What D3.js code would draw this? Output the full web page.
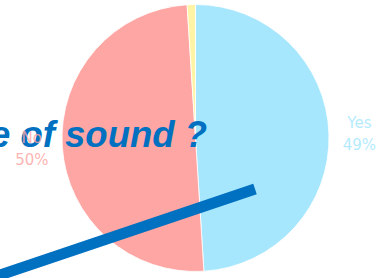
<!DOCTYPE html>
<html>
<head>
<meta charset="utf-8">
<script src="https://cdn.jsdelivr.net/npm/d3@7"></script>
<style>
  html, body { margin: 0; padding: 0; background: #fff; overflow: hidden; }
  svg { display: block; }
</style>
</head>
<body>
<div class="chart"></div>
<script>
const categories = ['Yes', 'No', 'Other'];
const values = [49, 50, 1];
const labels = ['49%', '50%', ''];
const colors = ['#a6e7fe', '#fda6a3', '#fff4a6'];

const width = 382,
  height = 278,
  cx = 195.5,
  cy = 138,
  radius = 133.5,
  labelRadius = 164;

const svg = d3
  .select('.chart')
  .append('svg')
  .attr('width', width)
  .attr('height', height);

const data = categories.map((c, i) => ({ name: c, value: values[i], label: labels[i], color: colors[i] }));

const pie = d3
  .pie()
  .sort(null)
  .value(d => d.value);

const arc = d3.arc().innerRadius(0).outerRadius(radius);
const labelArc = d3.arc().innerRadius(labelRadius).outerRadius(labelRadius);

const g = svg.append('g').attr('transform', `translate(${cx},${cy})`);

g.selectAll('.slice')
  .data(pie(data))
  .enter()
  .append('path')
  .attr('class', 'slice')
  .attr('d', arc)
  .attr('fill', d => d.data.color)
  .attr('stroke', '#fff')
  .attr('stroke-width', 0.8);

// title fragment, cut off at the left
svg
  .append('text')
  .attr('x', -10)
  .attr('y', 147)
  .style('font-family', 'Liberation Sans, Arial, sans-serif')
  .style('font-weight', 'bold')
  .style('font-style', 'italic')
  .style('font-size', '36.5px')
  .attr('fill', '#0070c0')
  .text('e of sound ?');

// two line labels outside the pie (drawn over the title, faintly)
const lab = svg
  .append('g')
  .attr('transform', `translate(${cx},${cy})`)
  .selectAll('.label')
  .data(pie(data).filter(d => d.data.label))
  .enter()
  .append('text')
  .attr('class', 'label')
  .attr('transform', d => {
    const c = labelArc.centroid(d);
    return `translate(${c[0]},${c[1] - 5})`;
  })
  .attr('text-anchor', 'middle')
  .style('font-family', 'DejaVu Sans, Verdana, sans-serif')
  .style('font-size', '15px')
  .attr('fill', d => d.data.color)
  .attr('fill-opacity', 0.85);

lab.append('tspan').attr('x', 0).attr('dy', 0).text(d => d.data.name);
lab.append('tspan').attr('x', 0).attr('dy', 22).text(d => d.data.label);

// thick pointer line
svg
  .append('line')
  .attr('x1', -12)
  .attr('y1', 279)
  .attr('x2', 255)
  .attr('y2', 189)
  .attr('stroke', '#0070c0')
  .attr('stroke-width', 11);
</script>
</body>
</html>
